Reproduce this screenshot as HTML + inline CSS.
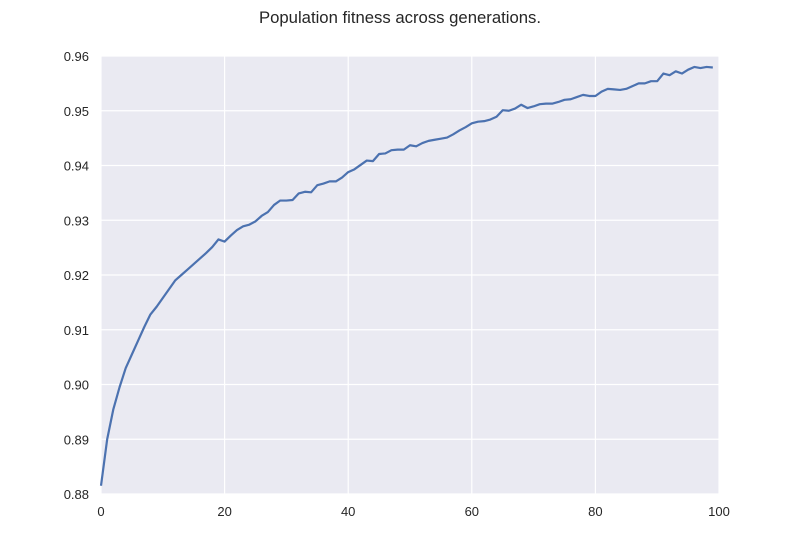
<!DOCTYPE html>
<html><head><meta charset="utf-8"><style>
body{margin:0;background:#fff;}
svg text{font-family:"Liberation Sans",sans-serif;fill:#262626;}
</style></head><body>
<svg id="chart" width="800" height="550">
<text x="400" y="23" text-anchor="middle" font-size="16.7">Population fitness across generations.</text>
<rect x="101" y="56" width="618" height="438" fill="#eaeaf2"/>
<g id="grid"></g><g id="ticks"></g>
<path id="line" fill="none" stroke="#4c72b0" stroke-width="2.2" stroke-linejoin="round"/>
</svg>
<script>
const fitness=[0.8815,0.890,0.8955,0.8995,0.903,0.9055,0.908,0.9105,0.9128,0.9142,0.9158,0.9174,0.919,0.920,0.921,0.922,0.923,0.924,0.9251,0.9265,0.9261,0.9272,0.9282,0.9289,0.9292,0.9298,0.9308,0.9315,0.9328,0.9336,0.9336,0.9337,0.9349,0.9352,0.9351,0.9364,0.9367,0.9371,0.9371,0.9378,0.9388,0.9393,0.9401,0.9409,0.9408,0.9421,0.9422,0.9428,0.9429,0.9429,0.9437,0.9435,0.9441,0.9445,0.9447,0.9449,0.9451,0.9457,0.9464,0.9470,0.9477,0.9480,0.9481,0.9484,0.9489,0.9501,0.9500,0.9504,0.9511,0.9505,0.9508,0.9512,0.9513,0.9513,0.9516,0.9520,0.9521,0.9525,0.9529,0.9527,0.9527,0.9535,0.9540,0.9539,0.9538,0.9540,0.9545,0.9550,0.9550,0.9554,0.9554,0.9568,0.9565,0.9572,0.9568,0.9575,0.9580,0.9578,0.9580,0.9579];
const xTicks=[0,20,40,60,80,100];
const yTicks=[0.88,0.89,0.90,0.91,0.92,0.93,0.94,0.95,0.96];
const X0=101,X1=719,Y0=494,Y1=56;
const sx=v=>X0+(v-0)/(100-0)*(X1-X0);
const sy=v=>Y0-(v-0.88)/(0.96-0.88)*(Y0-Y1);
const NS='http://www.w3.org/2000/svg';
const grid=document.getElementById('grid'),ticks=document.getElementById('ticks');
xTicks.forEach(t=>{
 const l=document.createElementNS(NS,'line');
 l.setAttribute('x1',sx(t));l.setAttribute('x2',sx(t));l.setAttribute('y1',Y1);l.setAttribute('y2',Y0);
 l.setAttribute('stroke','#fff');l.setAttribute('stroke-width','1.2');
 
 
 grid.appendChild(l);
 const tx=document.createElementNS(NS,'text');
 tx.setAttribute('x',sx(t));tx.setAttribute('y',Y0+22);tx.setAttribute('text-anchor','middle');tx.setAttribute('font-size','13');
 tx.textContent=t;
 
 
 ticks.appendChild(tx);
});
yTicks.forEach(t=>{
 const l=document.createElementNS(NS,'line');
 l.setAttribute('x1',X0);l.setAttribute('x2',X1);l.setAttribute('y1',sy(t));l.setAttribute('y2',sy(t));
 l.setAttribute('stroke','#fff');l.setAttribute('stroke-width','1.2');
 
 
 grid.appendChild(l);
 const tx=document.createElementNS(NS,'text');
 tx.setAttribute('x',89);tx.setAttribute('y',sy(t)+5);tx.setAttribute('text-anchor','end');tx.setAttribute('font-size','13');
 tx.textContent=t.toFixed(2);
 
 
 ticks.appendChild(tx);
});
document.getElementById('line').setAttribute('d',fitness.map((v,i)=>(i?'L':'M')+sx(i).toFixed(2)+','+sy(v).toFixed(2)).join(''));
</script>
</body></html>
